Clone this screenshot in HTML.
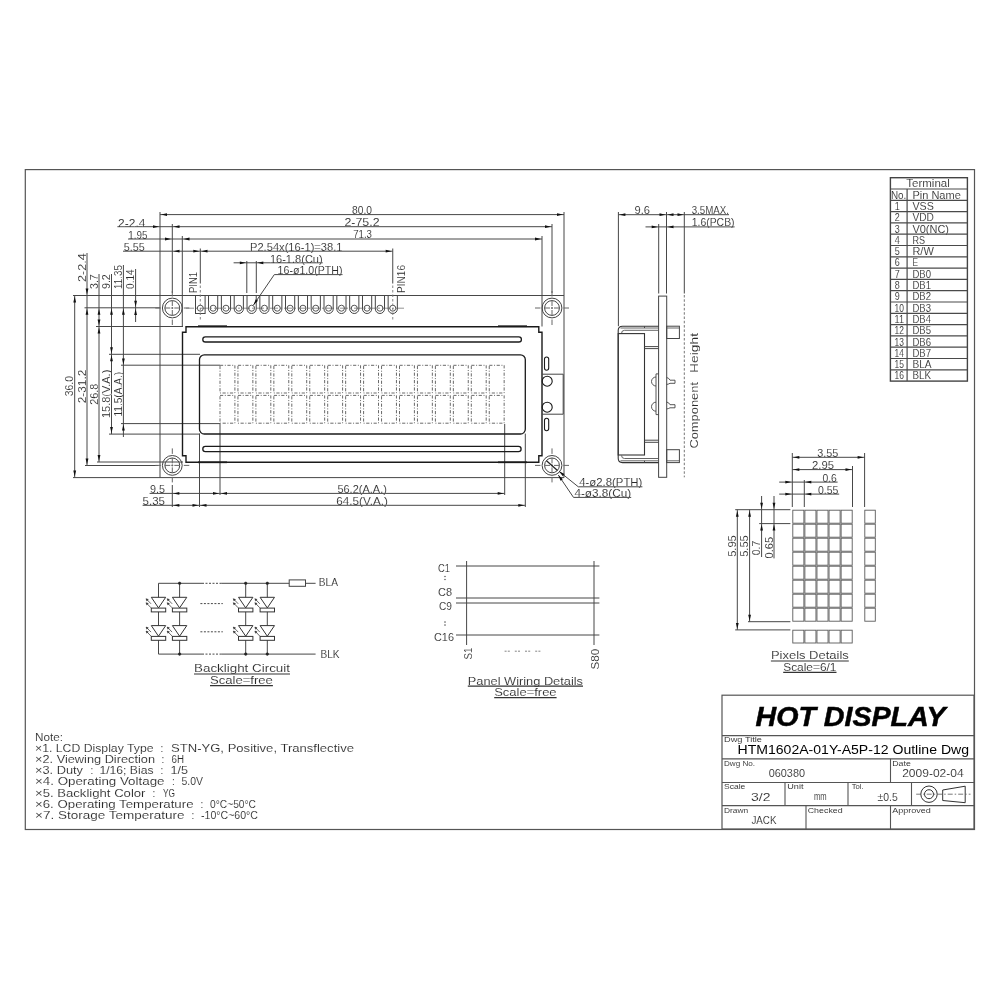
<!DOCTYPE html>
<html><head><meta charset="utf-8"><title>HTM1602A Outline</title>
<style>
html,body{margin:0;padding:0;background:#fff;}
body{width:1000px;height:1000px;overflow:hidden;}
svg{display:block;font-family:"Liberation Sans",sans-serif;will-change:transform;}
</style></head>
<body>
<svg width="1000" height="1000" viewBox="0 0 1000 1000">
<rect x="0" y="0" width="1000" height="1000" fill="#fff"/>
<rect x="25.3" y="169.6" width="949.2" height="659.9" fill="none" stroke="#555" stroke-width="1.2"/>
<line x1="160" y1="212" x2="160" y2="477.6" stroke="#474747" stroke-width="1"/>
<line x1="564" y1="212" x2="564" y2="477.6" stroke="#474747" stroke-width="1"/>
<line x1="73" y1="295.5" x2="564" y2="295.5" stroke="#474747" stroke-width="1"/>
<line x1="73" y1="477.6" x2="564" y2="477.6" stroke="#474747" stroke-width="1"/>
<line x1="84.5" y1="307.8" x2="160" y2="307.8" stroke="#474747" stroke-width="1"/>
<line x1="96" y1="326.5" x2="183" y2="326.5" stroke="#474747" stroke-width="1"/>
<line x1="109" y1="354.3" x2="200" y2="354.3" stroke="#474747" stroke-width="1"/>
<line x1="121" y1="365.2" x2="220" y2="365.2" stroke="#474747" stroke-width="1"/>
<line x1="121" y1="423.6" x2="220" y2="423.6" stroke="#474747" stroke-width="1"/>
<line x1="109" y1="434.1" x2="200" y2="434.1" stroke="#474747" stroke-width="1"/>
<line x1="97" y1="462" x2="183" y2="462" stroke="#474747" stroke-width="1"/>
<line x1="85" y1="465.5" x2="158" y2="465.5" stroke="#474747" stroke-width="1"/>
<line x1="172.3" y1="224" x2="172.3" y2="293" stroke="#474747" stroke-width="1"/>
<line x1="182.3" y1="236" x2="182.3" y2="326.5" stroke="#474747" stroke-width="1"/>
<line x1="200.3" y1="248.5" x2="200.3" y2="283.5" stroke="#474747" stroke-width="1"/>
<line x1="392.75" y1="248.5" x2="392.75" y2="283.5" stroke="#474747" stroke-width="1"/>
<line x1="542" y1="236" x2="542" y2="326.5" stroke="#474747" stroke-width="1"/>
<line x1="552" y1="224" x2="552" y2="293" stroke="#474747" stroke-width="1"/>
<line x1="172.3" y1="485" x2="172.3" y2="507" stroke="#474747" stroke-width="1"/>
<line x1="199.5" y1="433.6" x2="199.5" y2="507" stroke="#474747" stroke-width="1"/>
<line x1="220" y1="424" x2="220" y2="495" stroke="#474747" stroke-width="1"/>
<line x1="504.7" y1="424" x2="504.7" y2="495" stroke="#474747" stroke-width="1"/>
<line x1="525.3" y1="433.6" x2="525.3" y2="507" stroke="#474747" stroke-width="1"/>
<circle cx="172.3" cy="308" r="9.9" fill="none" stroke="#444" stroke-width="1"/>
<circle cx="172.3" cy="308" r="7.4" fill="none" stroke="#444" stroke-width="1"/>
<line x1="155.3" y1="308" x2="160.8" y2="308" stroke="#666" stroke-width="1"/>
<line x1="172.3" y1="291" x2="172.3" y2="296.5" stroke="#666" stroke-width="1"/>
<line x1="164.8" y1="308" x2="170.3" y2="308" stroke="#666" stroke-width="1"/>
<line x1="172.3" y1="300.5" x2="172.3" y2="306" stroke="#666" stroke-width="1"/>
<line x1="171.3" y1="308" x2="173.3" y2="308" stroke="#666" stroke-width="1"/>
<line x1="172.3" y1="307" x2="172.3" y2="309" stroke="#666" stroke-width="1"/>
<line x1="174.3" y1="308" x2="179.8" y2="308" stroke="#666" stroke-width="1"/>
<line x1="172.3" y1="310" x2="172.3" y2="315.5" stroke="#666" stroke-width="1"/>
<line x1="183.8" y1="308" x2="189.3" y2="308" stroke="#666" stroke-width="1"/>
<line x1="172.3" y1="319.5" x2="172.3" y2="325" stroke="#666" stroke-width="1"/>
<circle cx="172.3" cy="465.4" r="9.9" fill="none" stroke="#444" stroke-width="1"/>
<circle cx="172.3" cy="465.4" r="7.4" fill="none" stroke="#444" stroke-width="1"/>
<line x1="155.3" y1="465.4" x2="160.8" y2="465.4" stroke="#666" stroke-width="1"/>
<line x1="172.3" y1="448.4" x2="172.3" y2="453.9" stroke="#666" stroke-width="1"/>
<line x1="164.8" y1="465.4" x2="170.3" y2="465.4" stroke="#666" stroke-width="1"/>
<line x1="172.3" y1="457.9" x2="172.3" y2="463.4" stroke="#666" stroke-width="1"/>
<line x1="171.3" y1="465.4" x2="173.3" y2="465.4" stroke="#666" stroke-width="1"/>
<line x1="172.3" y1="464.4" x2="172.3" y2="466.4" stroke="#666" stroke-width="1"/>
<line x1="174.3" y1="465.4" x2="179.8" y2="465.4" stroke="#666" stroke-width="1"/>
<line x1="172.3" y1="467.4" x2="172.3" y2="472.9" stroke="#666" stroke-width="1"/>
<line x1="183.8" y1="465.4" x2="189.3" y2="465.4" stroke="#666" stroke-width="1"/>
<line x1="172.3" y1="476.9" x2="172.3" y2="482.4" stroke="#666" stroke-width="1"/>
<circle cx="552" cy="308" r="9.9" fill="none" stroke="#444" stroke-width="1"/>
<circle cx="552" cy="308" r="7.4" fill="none" stroke="#444" stroke-width="1"/>
<line x1="535" y1="308" x2="540.5" y2="308" stroke="#666" stroke-width="1"/>
<line x1="552" y1="291" x2="552" y2="296.5" stroke="#666" stroke-width="1"/>
<line x1="544.5" y1="308" x2="550" y2="308" stroke="#666" stroke-width="1"/>
<line x1="552" y1="300.5" x2="552" y2="306" stroke="#666" stroke-width="1"/>
<line x1="551" y1="308" x2="553" y2="308" stroke="#666" stroke-width="1"/>
<line x1="552" y1="307" x2="552" y2="309" stroke="#666" stroke-width="1"/>
<line x1="554" y1="308" x2="559.5" y2="308" stroke="#666" stroke-width="1"/>
<line x1="552" y1="310" x2="552" y2="315.5" stroke="#666" stroke-width="1"/>
<line x1="563.5" y1="308" x2="569" y2="308" stroke="#666" stroke-width="1"/>
<line x1="552" y1="319.5" x2="552" y2="325" stroke="#666" stroke-width="1"/>
<circle cx="552" cy="465.4" r="9.9" fill="none" stroke="#444" stroke-width="1"/>
<circle cx="552" cy="465.4" r="7.4" fill="none" stroke="#444" stroke-width="1"/>
<line x1="535" y1="465.4" x2="540.5" y2="465.4" stroke="#666" stroke-width="1"/>
<line x1="552" y1="448.4" x2="552" y2="453.9" stroke="#666" stroke-width="1"/>
<line x1="544.5" y1="465.4" x2="550" y2="465.4" stroke="#666" stroke-width="1"/>
<line x1="552" y1="457.9" x2="552" y2="463.4" stroke="#666" stroke-width="1"/>
<line x1="551" y1="465.4" x2="553" y2="465.4" stroke="#666" stroke-width="1"/>
<line x1="552" y1="464.4" x2="552" y2="466.4" stroke="#666" stroke-width="1"/>
<line x1="554" y1="465.4" x2="559.5" y2="465.4" stroke="#666" stroke-width="1"/>
<line x1="552" y1="467.4" x2="552" y2="472.9" stroke="#666" stroke-width="1"/>
<line x1="563.5" y1="465.4" x2="569" y2="465.4" stroke="#666" stroke-width="1"/>
<line x1="552" y1="476.9" x2="552" y2="482.4" stroke="#666" stroke-width="1"/>
<line x1="186" y1="308.2" x2="406" y2="308.2" stroke="#777" stroke-width="0.8" stroke-dasharray="8 2 2 2"/>
<rect x="195.5" y="295.5" width="9.6" height="18" fill="none" stroke="#444" stroke-width="1"/>
<circle cx="200.3" cy="308.2" r="3" fill="none" stroke="#444" stroke-width="0.9"/>
<line x1="200.3" y1="285.5" x2="200.3" y2="320" stroke="#777" stroke-width="0.9" stroke-dasharray="2.5 2"/>
<path d="M208.53,295.5 L208.53,308.9 A4.6,4.6 0 0 0 217.73,308.9 L217.73,295.5" fill="none" stroke="#444" stroke-width="1"/>
<circle cx="213.13" cy="308.2" r="3" fill="none" stroke="#444" stroke-width="0.9"/>
<path d="M221.36,295.5 L221.36,308.9 A4.6,4.6 0 0 0 230.56,308.9 L230.56,295.5" fill="none" stroke="#444" stroke-width="1"/>
<circle cx="225.96" cy="308.2" r="3" fill="none" stroke="#444" stroke-width="0.9"/>
<path d="M234.19,295.5 L234.19,308.9 A4.6,4.6 0 0 0 243.39,308.9 L243.39,295.5" fill="none" stroke="#444" stroke-width="1"/>
<circle cx="238.79" cy="308.2" r="3" fill="none" stroke="#444" stroke-width="0.9"/>
<path d="M247.02,295.5 L247.02,308.9 A4.6,4.6 0 0 0 256.22,308.9 L256.22,295.5" fill="none" stroke="#444" stroke-width="1"/>
<circle cx="251.62" cy="308.2" r="3" fill="none" stroke="#444" stroke-width="0.9"/>
<path d="M259.85,295.5 L259.85,308.9 A4.6,4.6 0 0 0 269.05,308.9 L269.05,295.5" fill="none" stroke="#444" stroke-width="1"/>
<circle cx="264.45" cy="308.2" r="3" fill="none" stroke="#444" stroke-width="0.9"/>
<path d="M272.68,295.5 L272.68,308.9 A4.6,4.6 0 0 0 281.88,308.9 L281.88,295.5" fill="none" stroke="#444" stroke-width="1"/>
<circle cx="277.28" cy="308.2" r="3" fill="none" stroke="#444" stroke-width="0.9"/>
<path d="M285.51,295.5 L285.51,308.9 A4.6,4.6 0 0 0 294.71,308.9 L294.71,295.5" fill="none" stroke="#444" stroke-width="1"/>
<circle cx="290.11" cy="308.2" r="3" fill="none" stroke="#444" stroke-width="0.9"/>
<path d="M298.34,295.5 L298.34,308.9 A4.6,4.6 0 0 0 307.54,308.9 L307.54,295.5" fill="none" stroke="#444" stroke-width="1"/>
<circle cx="302.94" cy="308.2" r="3" fill="none" stroke="#444" stroke-width="0.9"/>
<path d="M311.17,295.5 L311.17,308.9 A4.6,4.6 0 0 0 320.37,308.9 L320.37,295.5" fill="none" stroke="#444" stroke-width="1"/>
<circle cx="315.77" cy="308.2" r="3" fill="none" stroke="#444" stroke-width="0.9"/>
<path d="M324,295.5 L324,308.9 A4.6,4.6 0 0 0 333.2,308.9 L333.2,295.5" fill="none" stroke="#444" stroke-width="1"/>
<circle cx="328.6" cy="308.2" r="3" fill="none" stroke="#444" stroke-width="0.9"/>
<path d="M336.83,295.5 L336.83,308.9 A4.6,4.6 0 0 0 346.03,308.9 L346.03,295.5" fill="none" stroke="#444" stroke-width="1"/>
<circle cx="341.43" cy="308.2" r="3" fill="none" stroke="#444" stroke-width="0.9"/>
<path d="M349.66,295.5 L349.66,308.9 A4.6,4.6 0 0 0 358.86,308.9 L358.86,295.5" fill="none" stroke="#444" stroke-width="1"/>
<circle cx="354.26" cy="308.2" r="3" fill="none" stroke="#444" stroke-width="0.9"/>
<path d="M362.49,295.5 L362.49,308.9 A4.6,4.6 0 0 0 371.69,308.9 L371.69,295.5" fill="none" stroke="#444" stroke-width="1"/>
<circle cx="367.09" cy="308.2" r="3" fill="none" stroke="#444" stroke-width="0.9"/>
<path d="M375.32,295.5 L375.32,308.9 A4.6,4.6 0 0 0 384.52,308.9 L384.52,295.5" fill="none" stroke="#444" stroke-width="1"/>
<circle cx="379.92" cy="308.2" r="3" fill="none" stroke="#444" stroke-width="0.9"/>
<path d="M388.15,295.5 L388.15,308.9 A4.6,4.6 0 0 0 397.35,308.9 L397.35,295.5" fill="none" stroke="#444" stroke-width="1"/>
<circle cx="392.75" cy="308.2" r="3" fill="none" stroke="#444" stroke-width="0.9"/>
<line x1="392.75" y1="285.5" x2="392.75" y2="320" stroke="#777" stroke-width="0.9" stroke-dasharray="2.5 2"/>
<polygon points="186,326.7 538.8,326.7 538.8,332.3 542,332.3 542,455.8 538.8,455.8 538.8,462.2 186,462.2 186,455.8 182.5,455.8 182.5,332.3 186,332.3" fill="none" stroke="#1a1a1a" stroke-width="1.4"/>
<line x1="198" y1="326.2" x2="227" y2="326.2" stroke="#1a1a1a" stroke-width="1.7"/>
<line x1="198" y1="462.3" x2="227" y2="462.3" stroke="#1a1a1a" stroke-width="1.7"/>
<line x1="498" y1="326.2" x2="527" y2="326.2" stroke="#1a1a1a" stroke-width="1.7"/>
<line x1="498" y1="462.3" x2="527" y2="462.3" stroke="#1a1a1a" stroke-width="1.7"/>
<rect x="202.8" y="336.8" width="318.6" height="5.2" rx="2.6" fill="none" stroke="#1a1a1a" stroke-width="1.3"/>
<rect x="202.8" y="446.4" width="318.3" height="5.3" rx="2.6" fill="none" stroke="#1a1a1a" stroke-width="1.3"/>
<rect x="199.5" y="354.8" width="325.8" height="79.2" rx="4.8" fill="none" stroke="#1a1a1a" stroke-width="1.3"/>
<rect x="220" y="365.3" width="14.9" height="27.7" fill="none" stroke="#6a6a6a" stroke-width="1" stroke-dasharray="3.2 1.6 1 1.6"/>
<rect x="220" y="395.4" width="14.9" height="27.8" fill="none" stroke="#6a6a6a" stroke-width="1" stroke-dasharray="3.2 1.6 1 1.6"/>
<rect x="237.95" y="365.3" width="14.9" height="27.7" fill="none" stroke="#6a6a6a" stroke-width="1" stroke-dasharray="3.2 1.6 1 1.6"/>
<rect x="237.95" y="395.4" width="14.9" height="27.8" fill="none" stroke="#6a6a6a" stroke-width="1" stroke-dasharray="3.2 1.6 1 1.6"/>
<rect x="255.9" y="365.3" width="14.9" height="27.7" fill="none" stroke="#6a6a6a" stroke-width="1" stroke-dasharray="3.2 1.6 1 1.6"/>
<rect x="255.9" y="395.4" width="14.9" height="27.8" fill="none" stroke="#6a6a6a" stroke-width="1" stroke-dasharray="3.2 1.6 1 1.6"/>
<rect x="273.85" y="365.3" width="14.9" height="27.7" fill="none" stroke="#6a6a6a" stroke-width="1" stroke-dasharray="3.2 1.6 1 1.6"/>
<rect x="273.85" y="395.4" width="14.9" height="27.8" fill="none" stroke="#6a6a6a" stroke-width="1" stroke-dasharray="3.2 1.6 1 1.6"/>
<rect x="291.8" y="365.3" width="14.9" height="27.7" fill="none" stroke="#6a6a6a" stroke-width="1" stroke-dasharray="3.2 1.6 1 1.6"/>
<rect x="291.8" y="395.4" width="14.9" height="27.8" fill="none" stroke="#6a6a6a" stroke-width="1" stroke-dasharray="3.2 1.6 1 1.6"/>
<rect x="309.75" y="365.3" width="14.9" height="27.7" fill="none" stroke="#6a6a6a" stroke-width="1" stroke-dasharray="3.2 1.6 1 1.6"/>
<rect x="309.75" y="395.4" width="14.9" height="27.8" fill="none" stroke="#6a6a6a" stroke-width="1" stroke-dasharray="3.2 1.6 1 1.6"/>
<rect x="327.7" y="365.3" width="14.9" height="27.7" fill="none" stroke="#6a6a6a" stroke-width="1" stroke-dasharray="3.2 1.6 1 1.6"/>
<rect x="327.7" y="395.4" width="14.9" height="27.8" fill="none" stroke="#6a6a6a" stroke-width="1" stroke-dasharray="3.2 1.6 1 1.6"/>
<rect x="345.65" y="365.3" width="14.9" height="27.7" fill="none" stroke="#6a6a6a" stroke-width="1" stroke-dasharray="3.2 1.6 1 1.6"/>
<rect x="345.65" y="395.4" width="14.9" height="27.8" fill="none" stroke="#6a6a6a" stroke-width="1" stroke-dasharray="3.2 1.6 1 1.6"/>
<rect x="363.6" y="365.3" width="14.9" height="27.7" fill="none" stroke="#6a6a6a" stroke-width="1" stroke-dasharray="3.2 1.6 1 1.6"/>
<rect x="363.6" y="395.4" width="14.9" height="27.8" fill="none" stroke="#6a6a6a" stroke-width="1" stroke-dasharray="3.2 1.6 1 1.6"/>
<rect x="381.55" y="365.3" width="14.9" height="27.7" fill="none" stroke="#6a6a6a" stroke-width="1" stroke-dasharray="3.2 1.6 1 1.6"/>
<rect x="381.55" y="395.4" width="14.9" height="27.8" fill="none" stroke="#6a6a6a" stroke-width="1" stroke-dasharray="3.2 1.6 1 1.6"/>
<rect x="399.5" y="365.3" width="14.9" height="27.7" fill="none" stroke="#6a6a6a" stroke-width="1" stroke-dasharray="3.2 1.6 1 1.6"/>
<rect x="399.5" y="395.4" width="14.9" height="27.8" fill="none" stroke="#6a6a6a" stroke-width="1" stroke-dasharray="3.2 1.6 1 1.6"/>
<rect x="417.45" y="365.3" width="14.9" height="27.7" fill="none" stroke="#6a6a6a" stroke-width="1" stroke-dasharray="3.2 1.6 1 1.6"/>
<rect x="417.45" y="395.4" width="14.9" height="27.8" fill="none" stroke="#6a6a6a" stroke-width="1" stroke-dasharray="3.2 1.6 1 1.6"/>
<rect x="435.4" y="365.3" width="14.9" height="27.7" fill="none" stroke="#6a6a6a" stroke-width="1" stroke-dasharray="3.2 1.6 1 1.6"/>
<rect x="435.4" y="395.4" width="14.9" height="27.8" fill="none" stroke="#6a6a6a" stroke-width="1" stroke-dasharray="3.2 1.6 1 1.6"/>
<rect x="453.35" y="365.3" width="14.9" height="27.7" fill="none" stroke="#6a6a6a" stroke-width="1" stroke-dasharray="3.2 1.6 1 1.6"/>
<rect x="453.35" y="395.4" width="14.9" height="27.8" fill="none" stroke="#6a6a6a" stroke-width="1" stroke-dasharray="3.2 1.6 1 1.6"/>
<rect x="471.3" y="365.3" width="14.9" height="27.7" fill="none" stroke="#6a6a6a" stroke-width="1" stroke-dasharray="3.2 1.6 1 1.6"/>
<rect x="471.3" y="395.4" width="14.9" height="27.8" fill="none" stroke="#6a6a6a" stroke-width="1" stroke-dasharray="3.2 1.6 1 1.6"/>
<rect x="489.25" y="365.3" width="14.9" height="27.7" fill="none" stroke="#6a6a6a" stroke-width="1" stroke-dasharray="3.2 1.6 1 1.6"/>
<rect x="489.25" y="395.4" width="14.9" height="27.8" fill="none" stroke="#6a6a6a" stroke-width="1" stroke-dasharray="3.2 1.6 1 1.6"/>
<rect x="544.5" y="357" width="4.2" height="13.2" rx="2.1" fill="none" stroke="#1a1a1a" stroke-width="1.1"/>
<rect x="544.5" y="418.2" width="4.2" height="12.5" rx="2.1" fill="none" stroke="#1a1a1a" stroke-width="1.1"/>
<polyline points="542,374.2 563.2,374.2 563.2,414.2 542,414.2" fill="none" stroke="#444" stroke-width="1"/>
<circle cx="547.2" cy="381.2" r="5" fill="none" stroke="#1a1a1a" stroke-width="1.1"/>
<circle cx="547.2" cy="407.2" r="5" fill="none" stroke="#1a1a1a" stroke-width="1.1"/>
<line x1="160" y1="214.6" x2="564" y2="214.6" stroke="#474747" stroke-width="1"/>
<polygon points="161,214.6 167,213.2 167,216" fill="#111"/>
<polygon points="563,214.6 557,213.2 557,216" fill="#111"/>
<text x="352" y="214.1" font-size="10.1" fill="#2a2a2a" stroke="#fff" stroke-width="0.1" textLength="20" lengthAdjust="spacingAndGlyphs">80.0</text>
<line x1="117.4" y1="226.7" x2="552" y2="226.7" stroke="#474747" stroke-width="1"/>
<polygon points="159,226.7 153,225.3 153,228.1" fill="#111"/>
<polygon points="173.5,226.7 179.5,225.3 179.5,228.1" fill="#111"/>
<polygon points="551,226.7 545,225.3 545,228.1" fill="#111"/>
<text x="118.1" y="226.5" font-size="10.1" fill="#2a2a2a" stroke="#fff" stroke-width="0.1" textLength="27.3" lengthAdjust="spacingAndGlyphs">2-2.4</text>
<text x="344.4" y="226.2" font-size="10.1" fill="#2a2a2a" stroke="#fff" stroke-width="0.1" textLength="35.2" lengthAdjust="spacingAndGlyphs">2-75.2</text>
<line x1="128" y1="239" x2="542" y2="239" stroke="#474747" stroke-width="1"/>
<polygon points="171,239 165,237.6 165,240.4" fill="#111"/>
<polygon points="183.5,239 189.5,237.6 189.5,240.4" fill="#111"/>
<polygon points="541,239 535,237.6 535,240.4" fill="#111"/>
<text x="128.3" y="238.7" font-size="10.1" fill="#2a2a2a" stroke="#fff" stroke-width="0.1" textLength="19.2" lengthAdjust="spacingAndGlyphs">1.95</text>
<text x="353.2" y="238.4" font-size="10.1" fill="#2a2a2a" stroke="#fff" stroke-width="0.1" textLength="18.8" lengthAdjust="spacingAndGlyphs">71.3</text>
<line x1="123" y1="251.2" x2="392.7" y2="251.2" stroke="#474747" stroke-width="1"/>
<polygon points="173.5,251.2 179.5,249.8 179.5,252.6" fill="#111"/>
<polygon points="199.3,251.2 193.3,249.8 193.3,252.6" fill="#111"/>
<polygon points="201.5,251.2 207.5,249.8 207.5,252.6" fill="#111"/>
<polygon points="391.7,251.2 385.7,249.8 385.7,252.6" fill="#111"/>
<text x="123.7" y="250.9" font-size="10.1" fill="#2a2a2a" stroke="#fff" stroke-width="0.1" textLength="21" lengthAdjust="spacingAndGlyphs">5.55</text>
<text x="250" y="250.7" font-size="10.1" fill="#2a2a2a" stroke="#fff" stroke-width="0.1" textLength="92.5" lengthAdjust="spacingAndGlyphs">P2.54x(16-1)=38.1</text>
<line x1="233.6" y1="262.8" x2="322.7" y2="262.8" stroke="#474747" stroke-width="1"/>
<line x1="246.8" y1="261" x2="246.8" y2="293" stroke="#474747" stroke-width="1"/>
<line x1="256.3" y1="261" x2="256.3" y2="293" stroke="#474747" stroke-width="1"/>
<polygon points="245.8,262.8 239.8,261.4 239.8,264.2" fill="#111"/>
<polygon points="257.3,262.8 263.3,261.4 263.3,264.2" fill="#111"/>
<text x="269.9" y="262.5" font-size="10.1" fill="#2a2a2a" stroke="#fff" stroke-width="0.1" textLength="52.8" lengthAdjust="spacingAndGlyphs">16-1.8(Cu)</text>
<line x1="274.3" y1="274.6" x2="342.5" y2="274.6" stroke="#474747" stroke-width="1"/>
<line x1="274.3" y1="274.6" x2="253.5" y2="305" stroke="#474747" stroke-width="1"/>
<polygon points="253.5,305 258.04,300.84 255.73,299.26" fill="#111"/>
<text x="277.6" y="274.2" font-size="10.1" fill="#2a2a2a" stroke="#fff" stroke-width="0.1" textLength="64.9" lengthAdjust="spacingAndGlyphs">16-ø1.0(PTH)</text>
<text transform="translate(196.5,293) rotate(-90)" font-size="10.1" fill="#2a2a2a" stroke="#fff" stroke-width="0.1" textLength="21" lengthAdjust="spacingAndGlyphs">PIN1</text>
<text transform="translate(405.2,293) rotate(-90)" font-size="10.1" fill="#2a2a2a" stroke="#fff" stroke-width="0.1" textLength="28" lengthAdjust="spacingAndGlyphs">PIN16</text>
<line x1="74.7" y1="295.5" x2="74.7" y2="477.6" stroke="#474747" stroke-width="1"/>
<polygon points="74.7,296.5 73.3,302.5 76.1,302.5" fill="#111"/>
<polygon points="74.7,476.6 73.3,470.6 76.1,470.6" fill="#111"/>
<text transform="translate(73.2,396.3) rotate(-90)" font-size="10.1" fill="#2a2a2a" stroke="#fff" stroke-width="0.1" textLength="20.3" lengthAdjust="spacingAndGlyphs">36.0</text>
<line x1="87" y1="253" x2="87" y2="465.5" stroke="#474747" stroke-width="1"/>
<polygon points="87,294.5 85.6,288.5 88.4,288.5" fill="#111"/>
<polygon points="87,308.8 85.6,314.8 88.4,314.8" fill="#111"/>
<polygon points="87,464.5 85.6,458.5 88.4,458.5" fill="#111"/>
<text transform="translate(85.5,281.9) rotate(-90)" font-size="10.1" fill="#2a2a2a" stroke="#fff" stroke-width="0.1" textLength="28.7" lengthAdjust="spacingAndGlyphs">2-2.4</text>
<text transform="translate(85.5,403.3) rotate(-90)" font-size="10.1" fill="#2a2a2a" stroke="#fff" stroke-width="0.1" textLength="33.6" lengthAdjust="spacingAndGlyphs">2-31.2</text>
<line x1="99" y1="274" x2="99" y2="462" stroke="#474747" stroke-width="1"/>
<polygon points="99,308.8 97.6,314.8 100.4,314.8" fill="#111"/>
<polygon points="99,325.5 97.6,319.5 100.4,319.5" fill="#111"/>
<polygon points="99,327.5 97.6,333.5 100.4,333.5" fill="#111"/>
<polygon points="99,461 97.6,455 100.4,455" fill="#111"/>
<text transform="translate(97.6,289) rotate(-90)" font-size="10.1" fill="#2a2a2a" stroke="#fff" stroke-width="0.1" textLength="14.8" lengthAdjust="spacingAndGlyphs">3.7</text>
<text transform="translate(97.6,404.7) rotate(-90)" font-size="10.1" fill="#2a2a2a" stroke="#fff" stroke-width="0.1" textLength="21" lengthAdjust="spacingAndGlyphs">26.8</text>
<line x1="111.5" y1="274" x2="111.5" y2="434.1" stroke="#474747" stroke-width="1"/>
<polygon points="111.5,308.8 110.1,314.8 112.9,314.8" fill="#111"/>
<polygon points="111.5,353.3 110.1,347.3 112.9,347.3" fill="#111"/>
<polygon points="111.5,355.3 110.1,361.3 112.9,361.3" fill="#111"/>
<polygon points="111.5,433.1 110.1,427.1 112.9,427.1" fill="#111"/>
<text transform="translate(110,289) rotate(-90)" font-size="10.1" fill="#2a2a2a" stroke="#fff" stroke-width="0.1" textLength="14.8" lengthAdjust="spacingAndGlyphs">9.2</text>
<text transform="translate(110,418) rotate(-90)" font-size="10.1" fill="#2a2a2a" stroke="#fff" stroke-width="0.1" textLength="48.3" lengthAdjust="spacingAndGlyphs">15.8(V.A.)</text>
<line x1="123.4" y1="265" x2="123.4" y2="437" stroke="#474747" stroke-width="1"/>
<polygon points="123.4,308.8 122,314.8 124.8,314.8" fill="#111"/>
<polygon points="123.4,364.6 122,358.6 124.8,358.6" fill="#111"/>
<polygon points="123.4,424.4 122,430.4 124.8,430.4" fill="#111"/>
<text transform="translate(122,289) rotate(-90)" font-size="10.1" fill="#2a2a2a" stroke="#fff" stroke-width="0.1" textLength="23.9" lengthAdjust="spacingAndGlyphs">11.35</text>
<text transform="translate(122,416.6) rotate(-90)" font-size="10.1" fill="#2a2a2a" stroke="#fff" stroke-width="0.1" textLength="44.8" lengthAdjust="spacingAndGlyphs">11.5(A.A.)</text>
<line x1="135.6" y1="269" x2="135.6" y2="322" stroke="#474747" stroke-width="1"/>
<polygon points="135.6,306.8 134.2,300.8 137,300.8" fill="#111"/>
<polygon points="135.6,309 134.2,315 137,315" fill="#111"/>
<text transform="translate(134.2,289) rotate(-90)" font-size="10.1" fill="#2a2a2a" stroke="#fff" stroke-width="0.1" textLength="19.7" lengthAdjust="spacingAndGlyphs">0.14</text>
<line x1="149.6" y1="493.4" x2="504.7" y2="493.4" stroke="#474747" stroke-width="1"/>
<polygon points="173.3,493.4 179.3,492 179.3,494.8" fill="#111"/>
<polygon points="219,493.4 213,492 213,494.8" fill="#111"/>
<polygon points="221,493.4 227,492 227,494.8" fill="#111"/>
<polygon points="503.7,493.4 497.7,492 497.7,494.8" fill="#111"/>
<text x="150" y="493.1" font-size="10.1" fill="#2a2a2a" stroke="#fff" stroke-width="0.1" textLength="15" lengthAdjust="spacingAndGlyphs">9.5</text>
<text x="337.4" y="492.9" font-size="10.1" fill="#2a2a2a" stroke="#fff" stroke-width="0.1" textLength="49.5" lengthAdjust="spacingAndGlyphs">56.2(A.A.)</text>
<line x1="142.6" y1="505.3" x2="525.3" y2="505.3" stroke="#474747" stroke-width="1"/>
<polygon points="173.3,505.3 179.3,503.9 179.3,506.7" fill="#111"/>
<polygon points="198.5,505.3 192.5,503.9 192.5,506.7" fill="#111"/>
<polygon points="200.5,505.3 206.5,503.9 206.5,506.7" fill="#111"/>
<polygon points="524.3,505.3 518.3,503.9 518.3,506.7" fill="#111"/>
<text x="142.6" y="505.1" font-size="10.1" fill="#2a2a2a" stroke="#fff" stroke-width="0.1" textLength="22.4" lengthAdjust="spacingAndGlyphs">5.35</text>
<text x="336.3" y="504.7" font-size="10.1" fill="#2a2a2a" stroke="#fff" stroke-width="0.1" textLength="51.7" lengthAdjust="spacingAndGlyphs">64.5(V.A.)</text>
<line x1="546.5" y1="460.7" x2="557.5" y2="470.5" stroke="#222" stroke-width="1.2"/>
<line x1="559" y1="471.3" x2="578.3" y2="486.8" stroke="#474747" stroke-width="1"/>
<line x1="578.3" y1="486.8" x2="642.4" y2="486.8" stroke="#474747" stroke-width="1"/>
<polygon points="559,471.3 562.8,476.15 564.55,473.97" fill="#111"/>
<line x1="558.3" y1="475" x2="573.5" y2="497.4" stroke="#474747" stroke-width="1"/>
<line x1="573.5" y1="497.4" x2="631.2" y2="497.4" stroke="#474747" stroke-width="1"/>
<polygon points="558.3,475 560.51,480.75 562.83,479.18" fill="#111"/>
<text x="579.2" y="486.1" font-size="10.1" fill="#2a2a2a" stroke="#fff" stroke-width="0.1" textLength="63.2" lengthAdjust="spacingAndGlyphs">4-ø2.8(PTH)</text>
<text x="574.4" y="497.3" font-size="10.1" fill="#2a2a2a" stroke="#fff" stroke-width="0.1" textLength="56.8" lengthAdjust="spacingAndGlyphs">4-ø3.8(Cu)</text>
<line x1="618.4" y1="212" x2="618.4" y2="326.2" stroke="#474747" stroke-width="1"/>
<line x1="658.7" y1="224" x2="658.7" y2="293.5" stroke="#474747" stroke-width="1"/>
<line x1="666.5" y1="212" x2="666.5" y2="293.5" stroke="#474747" stroke-width="1"/>
<line x1="684.3" y1="212" x2="684.3" y2="293.5" stroke="#474747" stroke-width="1"/>
<line x1="684.3" y1="295" x2="684.3" y2="477.3" stroke="#666" stroke-width="0.9" stroke-dasharray="2.5 1.8"/>
<line x1="618.4" y1="214.7" x2="729" y2="214.7" stroke="#474747" stroke-width="1"/>
<polygon points="619.4,214.7 625.4,213.3 625.4,216.1" fill="#111"/>
<polygon points="665.5,214.7 659.5,213.3 659.5,216.1" fill="#111"/>
<polygon points="667.5,214.7 673.5,213.3 673.5,216.1" fill="#111"/>
<polygon points="683.5,214.7 677.5,213.3 677.5,216.1" fill="#111"/>
<text x="634.5" y="214.2" font-size="10.1" fill="#2a2a2a" stroke="#fff" stroke-width="0.1" textLength="15.5" lengthAdjust="spacingAndGlyphs">9.6</text>
<text x="691.7" y="214.2" font-size="10.1" fill="#2a2a2a" stroke="#fff" stroke-width="0.1" textLength="37.3" lengthAdjust="spacingAndGlyphs">3.5MAX.</text>
<line x1="645.5" y1="226.9" x2="734.6" y2="226.9" stroke="#474747" stroke-width="1"/>
<polygon points="657.7,226.9 651.7,225.5 651.7,228.3" fill="#111"/>
<polygon points="667.5,226.9 673.5,225.5 673.5,228.3" fill="#111"/>
<text x="691.7" y="226.4" font-size="10.1" fill="#2a2a2a" stroke="#fff" stroke-width="0.1" textLength="42.9" lengthAdjust="spacingAndGlyphs">1.6(PCB)</text>
<rect x="658.6" y="296.1" width="8.1" height="181.2" fill="none" stroke="#444" stroke-width="1"/>
<rect x="666.7" y="326.2" width="12.7" height="12.3" fill="none" stroke="#444" stroke-width="1"/>
<rect x="666.7" y="449.7" width="12.7" height="12.9" fill="none" stroke="#444" stroke-width="1"/>
<path d="M658.6,326.2 L622.5,326.2 Q618.2,326.2 618.2,330.5 L618.2,458.3 Q618.2,462.6 622.5,462.6 L658.6,462.6" fill="none" stroke="#333" stroke-width="1.1"/>
<path d="M658.6,330.3 L624.5,330.3 Q621.6,330.3 621.6,333.2" fill="none" stroke="#555" stroke-width="0.9"/>
<path d="M658.6,458.5 L624.5,458.5 Q621.6,458.5 621.6,455.6" fill="none" stroke="#555" stroke-width="0.9"/>
<line x1="620.5" y1="328" x2="658.6" y2="328" stroke="#555" stroke-width="0.9"/>
<line x1="620.5" y1="460.8" x2="658.6" y2="460.8" stroke="#555" stroke-width="0.9"/>
<rect x="618.2" y="333.6" width="26.3" height="121.4" fill="none" stroke="#333" stroke-width="1.1"/>
<line x1="644.5" y1="326.2" x2="644.5" y2="328" stroke="#474747" stroke-width="1"/>
<line x1="644.5" y1="460.8" x2="644.5" y2="462.6" stroke="#474747" stroke-width="1"/>
<line x1="666.7" y1="328" x2="679.4" y2="328" stroke="#555" stroke-width="0.9"/>
<line x1="666.7" y1="460.8" x2="679.4" y2="460.8" stroke="#555" stroke-width="0.9"/>
<line x1="644.5" y1="346.6" x2="658.6" y2="346.6" stroke="#474747" stroke-width="1"/>
<line x1="644.5" y1="348.6" x2="658.6" y2="348.6" stroke="#474747" stroke-width="1"/>
<line x1="644.6" y1="440.2" x2="658.6" y2="440.2" stroke="#474747" stroke-width="1"/>
<line x1="644.6" y1="442.3" x2="658.6" y2="442.3" stroke="#474747" stroke-width="1"/>
<path d="M658.6,373.9 L656,373.9 L656,414.6 L658.6,414.6" fill="none" stroke="#444" stroke-width="0.9"/>
<path d="M656,377 A4.5,4.5 0 0 0 656,386" fill="none" stroke="#444" stroke-width="0.9"/>
<path d="M656,402.2 A4.5,4.5 0 0 0 656,411.2" fill="none" stroke="#444" stroke-width="0.9"/>
<path d="M666.7,377.5 Q669,378 670,380.2 L675,380.2 L675,383.3 L670,383.3 Q669,384 666.7,384.5" fill="none" stroke="#444" stroke-width="0.9"/>
<path d="M666.7,402 Q669,402.5 670,404.7 L675,404.7 L675,407.8 L670,407.8 Q669,408.5 666.7,409" fill="none" stroke="#444" stroke-width="0.9"/>
<text transform="translate(697.7,448.6) rotate(-90)" font-size="11.5" fill="#2a2a2a" stroke="#fff" stroke-width="0.1" textLength="66.6" lengthAdjust="spacingAndGlyphs">Component</text>
<text transform="translate(697.7,373) rotate(-90)" font-size="11.5" fill="#2a2a2a" stroke="#fff" stroke-width="0.1" textLength="40" lengthAdjust="spacingAndGlyphs">Height</text>
<rect x="890.4" y="177.7" width="77" height="203.4" fill="none" stroke="#444" stroke-width="1.4"/>
<line x1="890.4" y1="189" x2="967.4" y2="189" stroke="#4a4a4a" stroke-width="1.2"/>
<line x1="890.4" y1="200.3" x2="967.4" y2="200.3" stroke="#4a4a4a" stroke-width="1.2"/>
<line x1="890.4" y1="211.6" x2="967.4" y2="211.6" stroke="#4a4a4a" stroke-width="1.2"/>
<line x1="890.4" y1="222.9" x2="967.4" y2="222.9" stroke="#4a4a4a" stroke-width="1.2"/>
<line x1="890.4" y1="234.2" x2="967.4" y2="234.2" stroke="#4a4a4a" stroke-width="1.2"/>
<line x1="890.4" y1="245.5" x2="967.4" y2="245.5" stroke="#4a4a4a" stroke-width="1.2"/>
<line x1="890.4" y1="256.8" x2="967.4" y2="256.8" stroke="#4a4a4a" stroke-width="1.2"/>
<line x1="890.4" y1="268.1" x2="967.4" y2="268.1" stroke="#4a4a4a" stroke-width="1.2"/>
<line x1="890.4" y1="279.4" x2="967.4" y2="279.4" stroke="#4a4a4a" stroke-width="1.2"/>
<line x1="890.4" y1="290.7" x2="967.4" y2="290.7" stroke="#4a4a4a" stroke-width="1.2"/>
<line x1="890.4" y1="302" x2="967.4" y2="302" stroke="#4a4a4a" stroke-width="1.2"/>
<line x1="890.4" y1="313.3" x2="967.4" y2="313.3" stroke="#4a4a4a" stroke-width="1.2"/>
<line x1="890.4" y1="324.6" x2="967.4" y2="324.6" stroke="#4a4a4a" stroke-width="1.2"/>
<line x1="890.4" y1="335.9" x2="967.4" y2="335.9" stroke="#4a4a4a" stroke-width="1.2"/>
<line x1="890.4" y1="347.2" x2="967.4" y2="347.2" stroke="#4a4a4a" stroke-width="1.2"/>
<line x1="890.4" y1="358.5" x2="967.4" y2="358.5" stroke="#4a4a4a" stroke-width="1.2"/>
<line x1="890.4" y1="369.8" x2="967.4" y2="369.8" stroke="#4a4a4a" stroke-width="1.2"/>
<line x1="907.1" y1="189" x2="907.1" y2="381.1" stroke="#4a4a4a" stroke-width="1.2"/>
<text x="906.3" y="187.2" font-size="10.3" fill="#2a2a2a" stroke="#fff" stroke-width="0.1" textLength="43.5" lengthAdjust="spacingAndGlyphs">Terminal</text>
<text x="890.9" y="198.6" font-size="10.3" fill="#2a2a2a" stroke="#fff" stroke-width="0.1" textLength="15.4" lengthAdjust="spacingAndGlyphs">No.</text>
<text x="912.4" y="198.6" font-size="10.3" fill="#2a2a2a" stroke="#fff" stroke-width="0.1" textLength="48.4" lengthAdjust="spacingAndGlyphs">Pin Name</text>
<text x="894.8" y="209.9" font-size="10.3" fill="#2a2a2a" stroke="#fff" stroke-width="0.1" textLength="5" lengthAdjust="spacingAndGlyphs">1</text>
<text x="912.4" y="209.9" font-size="10.3" fill="#2a2a2a" stroke="#fff" stroke-width="0.1" textLength="21.4" lengthAdjust="spacingAndGlyphs">VSS</text>
<text x="894.8" y="221.2" font-size="10.3" fill="#2a2a2a" stroke="#fff" stroke-width="0.1" textLength="5" lengthAdjust="spacingAndGlyphs">2</text>
<text x="912.4" y="221.2" font-size="10.3" fill="#2a2a2a" stroke="#fff" stroke-width="0.1" textLength="21.4" lengthAdjust="spacingAndGlyphs">VDD</text>
<text x="894.8" y="232.5" font-size="10.3" fill="#2a2a2a" stroke="#fff" stroke-width="0.1" textLength="5" lengthAdjust="spacingAndGlyphs">3</text>
<text x="912.4" y="232.5" font-size="10.3" fill="#2a2a2a" stroke="#fff" stroke-width="0.1" textLength="36.6" lengthAdjust="spacingAndGlyphs">V0(NC)</text>
<text x="894.8" y="243.8" font-size="10.3" fill="#2a2a2a" stroke="#fff" stroke-width="0.1" textLength="5" lengthAdjust="spacingAndGlyphs">4</text>
<text x="912.4" y="243.8" font-size="10.3" fill="#2a2a2a" stroke="#fff" stroke-width="0.1" textLength="12.6" lengthAdjust="spacingAndGlyphs">RS</text>
<text x="894.8" y="255.1" font-size="10.3" fill="#2a2a2a" stroke="#fff" stroke-width="0.1" textLength="5" lengthAdjust="spacingAndGlyphs">5</text>
<text x="912.4" y="255.1" font-size="10.3" fill="#2a2a2a" stroke="#fff" stroke-width="0.1" textLength="21.4" lengthAdjust="spacingAndGlyphs">R/W</text>
<text x="894.8" y="266.4" font-size="10.3" fill="#2a2a2a" stroke="#fff" stroke-width="0.1" textLength="5" lengthAdjust="spacingAndGlyphs">6</text>
<text x="912.4" y="266.4" font-size="10.3" fill="#2a2a2a" stroke="#fff" stroke-width="0.1" textLength="5.5" lengthAdjust="spacingAndGlyphs">E</text>
<text x="894.8" y="277.7" font-size="10.3" fill="#2a2a2a" stroke="#fff" stroke-width="0.1" textLength="5" lengthAdjust="spacingAndGlyphs">7</text>
<text x="912.4" y="277.7" font-size="10.3" fill="#2a2a2a" stroke="#fff" stroke-width="0.1" textLength="18.6" lengthAdjust="spacingAndGlyphs">DB0</text>
<text x="894.8" y="289" font-size="10.3" fill="#2a2a2a" stroke="#fff" stroke-width="0.1" textLength="5" lengthAdjust="spacingAndGlyphs">8</text>
<text x="912.4" y="289" font-size="10.3" fill="#2a2a2a" stroke="#fff" stroke-width="0.1" textLength="18.6" lengthAdjust="spacingAndGlyphs">DB1</text>
<text x="894.8" y="300.3" font-size="10.3" fill="#2a2a2a" stroke="#fff" stroke-width="0.1" textLength="5" lengthAdjust="spacingAndGlyphs">9</text>
<text x="912.4" y="300.3" font-size="10.3" fill="#2a2a2a" stroke="#fff" stroke-width="0.1" textLength="18.6" lengthAdjust="spacingAndGlyphs">DB2</text>
<text x="894.6" y="311.6" font-size="10.3" fill="#2a2a2a" stroke="#fff" stroke-width="0.1" textLength="9.4" lengthAdjust="spacingAndGlyphs">10</text>
<text x="912.4" y="311.6" font-size="10.3" fill="#2a2a2a" stroke="#fff" stroke-width="0.1" textLength="18.6" lengthAdjust="spacingAndGlyphs">DB3</text>
<text x="894.6" y="322.9" font-size="10.3" fill="#2a2a2a" stroke="#fff" stroke-width="0.1" textLength="9.4" lengthAdjust="spacingAndGlyphs">11</text>
<text x="912.4" y="322.9" font-size="10.3" fill="#2a2a2a" stroke="#fff" stroke-width="0.1" textLength="18.6" lengthAdjust="spacingAndGlyphs">DB4</text>
<text x="894.6" y="334.2" font-size="10.3" fill="#2a2a2a" stroke="#fff" stroke-width="0.1" textLength="9.4" lengthAdjust="spacingAndGlyphs">12</text>
<text x="912.4" y="334.2" font-size="10.3" fill="#2a2a2a" stroke="#fff" stroke-width="0.1" textLength="18.6" lengthAdjust="spacingAndGlyphs">DB5</text>
<text x="894.6" y="345.5" font-size="10.3" fill="#2a2a2a" stroke="#fff" stroke-width="0.1" textLength="9.4" lengthAdjust="spacingAndGlyphs">13</text>
<text x="912.4" y="345.5" font-size="10.3" fill="#2a2a2a" stroke="#fff" stroke-width="0.1" textLength="18.6" lengthAdjust="spacingAndGlyphs">DB6</text>
<text x="894.6" y="356.8" font-size="10.3" fill="#2a2a2a" stroke="#fff" stroke-width="0.1" textLength="9.4" lengthAdjust="spacingAndGlyphs">14</text>
<text x="912.4" y="356.8" font-size="10.3" fill="#2a2a2a" stroke="#fff" stroke-width="0.1" textLength="18.6" lengthAdjust="spacingAndGlyphs">DB7</text>
<text x="894.6" y="368.1" font-size="10.3" fill="#2a2a2a" stroke="#fff" stroke-width="0.1" textLength="9.4" lengthAdjust="spacingAndGlyphs">15</text>
<text x="912.4" y="368.1" font-size="10.3" fill="#2a2a2a" stroke="#fff" stroke-width="0.1" textLength="19.2" lengthAdjust="spacingAndGlyphs">BLA</text>
<text x="894.6" y="379.4" font-size="10.3" fill="#2a2a2a" stroke="#fff" stroke-width="0.1" textLength="9.4" lengthAdjust="spacingAndGlyphs">16</text>
<text x="912.4" y="379.4" font-size="10.3" fill="#2a2a2a" stroke="#fff" stroke-width="0.1" textLength="18.6" lengthAdjust="spacingAndGlyphs">BLK</text>
<rect x="792.8" y="510.2" width="11.08" height="13" fill="none" stroke="#5a5a5a" stroke-width="0.9"/>
<rect x="792.8" y="524.2" width="11.08" height="13" fill="none" stroke="#5a5a5a" stroke-width="0.9"/>
<rect x="792.8" y="538.2" width="11.08" height="13" fill="none" stroke="#5a5a5a" stroke-width="0.9"/>
<rect x="792.8" y="552.2" width="11.08" height="13" fill="none" stroke="#5a5a5a" stroke-width="0.9"/>
<rect x="792.8" y="566.2" width="11.08" height="13" fill="none" stroke="#5a5a5a" stroke-width="0.9"/>
<rect x="792.8" y="580.2" width="11.08" height="13" fill="none" stroke="#5a5a5a" stroke-width="0.9"/>
<rect x="792.8" y="594.2" width="11.08" height="13" fill="none" stroke="#5a5a5a" stroke-width="0.9"/>
<rect x="792.8" y="608.2" width="11.08" height="13" fill="none" stroke="#5a5a5a" stroke-width="0.9"/>
<rect x="792.8" y="630.2" width="11.08" height="12.8" fill="none" stroke="#5a5a5a" stroke-width="0.9"/>
<rect x="804.88" y="510.2" width="11.08" height="13" fill="none" stroke="#5a5a5a" stroke-width="0.9"/>
<rect x="804.88" y="524.2" width="11.08" height="13" fill="none" stroke="#5a5a5a" stroke-width="0.9"/>
<rect x="804.88" y="538.2" width="11.08" height="13" fill="none" stroke="#5a5a5a" stroke-width="0.9"/>
<rect x="804.88" y="552.2" width="11.08" height="13" fill="none" stroke="#5a5a5a" stroke-width="0.9"/>
<rect x="804.88" y="566.2" width="11.08" height="13" fill="none" stroke="#5a5a5a" stroke-width="0.9"/>
<rect x="804.88" y="580.2" width="11.08" height="13" fill="none" stroke="#5a5a5a" stroke-width="0.9"/>
<rect x="804.88" y="594.2" width="11.08" height="13" fill="none" stroke="#5a5a5a" stroke-width="0.9"/>
<rect x="804.88" y="608.2" width="11.08" height="13" fill="none" stroke="#5a5a5a" stroke-width="0.9"/>
<rect x="804.88" y="630.2" width="11.08" height="12.8" fill="none" stroke="#5a5a5a" stroke-width="0.9"/>
<rect x="816.96" y="510.2" width="11.08" height="13" fill="none" stroke="#5a5a5a" stroke-width="0.9"/>
<rect x="816.96" y="524.2" width="11.08" height="13" fill="none" stroke="#5a5a5a" stroke-width="0.9"/>
<rect x="816.96" y="538.2" width="11.08" height="13" fill="none" stroke="#5a5a5a" stroke-width="0.9"/>
<rect x="816.96" y="552.2" width="11.08" height="13" fill="none" stroke="#5a5a5a" stroke-width="0.9"/>
<rect x="816.96" y="566.2" width="11.08" height="13" fill="none" stroke="#5a5a5a" stroke-width="0.9"/>
<rect x="816.96" y="580.2" width="11.08" height="13" fill="none" stroke="#5a5a5a" stroke-width="0.9"/>
<rect x="816.96" y="594.2" width="11.08" height="13" fill="none" stroke="#5a5a5a" stroke-width="0.9"/>
<rect x="816.96" y="608.2" width="11.08" height="13" fill="none" stroke="#5a5a5a" stroke-width="0.9"/>
<rect x="816.96" y="630.2" width="11.08" height="12.8" fill="none" stroke="#5a5a5a" stroke-width="0.9"/>
<rect x="829.04" y="510.2" width="11.08" height="13" fill="none" stroke="#5a5a5a" stroke-width="0.9"/>
<rect x="829.04" y="524.2" width="11.08" height="13" fill="none" stroke="#5a5a5a" stroke-width="0.9"/>
<rect x="829.04" y="538.2" width="11.08" height="13" fill="none" stroke="#5a5a5a" stroke-width="0.9"/>
<rect x="829.04" y="552.2" width="11.08" height="13" fill="none" stroke="#5a5a5a" stroke-width="0.9"/>
<rect x="829.04" y="566.2" width="11.08" height="13" fill="none" stroke="#5a5a5a" stroke-width="0.9"/>
<rect x="829.04" y="580.2" width="11.08" height="13" fill="none" stroke="#5a5a5a" stroke-width="0.9"/>
<rect x="829.04" y="594.2" width="11.08" height="13" fill="none" stroke="#5a5a5a" stroke-width="0.9"/>
<rect x="829.04" y="608.2" width="11.08" height="13" fill="none" stroke="#5a5a5a" stroke-width="0.9"/>
<rect x="829.04" y="630.2" width="11.08" height="12.8" fill="none" stroke="#5a5a5a" stroke-width="0.9"/>
<rect x="841.12" y="510.2" width="11.08" height="13" fill="none" stroke="#5a5a5a" stroke-width="0.9"/>
<rect x="841.12" y="524.2" width="11.08" height="13" fill="none" stroke="#5a5a5a" stroke-width="0.9"/>
<rect x="841.12" y="538.2" width="11.08" height="13" fill="none" stroke="#5a5a5a" stroke-width="0.9"/>
<rect x="841.12" y="552.2" width="11.08" height="13" fill="none" stroke="#5a5a5a" stroke-width="0.9"/>
<rect x="841.12" y="566.2" width="11.08" height="13" fill="none" stroke="#5a5a5a" stroke-width="0.9"/>
<rect x="841.12" y="580.2" width="11.08" height="13" fill="none" stroke="#5a5a5a" stroke-width="0.9"/>
<rect x="841.12" y="594.2" width="11.08" height="13" fill="none" stroke="#5a5a5a" stroke-width="0.9"/>
<rect x="841.12" y="608.2" width="11.08" height="13" fill="none" stroke="#5a5a5a" stroke-width="0.9"/>
<rect x="841.12" y="630.2" width="11.08" height="12.8" fill="none" stroke="#5a5a5a" stroke-width="0.9"/>
<rect x="864.8" y="510.2" width="10.5" height="13" fill="none" stroke="#5a5a5a" stroke-width="0.9"/>
<rect x="864.8" y="524.2" width="10.5" height="13" fill="none" stroke="#5a5a5a" stroke-width="0.9"/>
<rect x="864.8" y="538.2" width="10.5" height="13" fill="none" stroke="#5a5a5a" stroke-width="0.9"/>
<rect x="864.8" y="552.2" width="10.5" height="13" fill="none" stroke="#5a5a5a" stroke-width="0.9"/>
<rect x="864.8" y="566.2" width="10.5" height="13" fill="none" stroke="#5a5a5a" stroke-width="0.9"/>
<rect x="864.8" y="580.2" width="10.5" height="13" fill="none" stroke="#5a5a5a" stroke-width="0.9"/>
<rect x="864.8" y="594.2" width="10.5" height="13" fill="none" stroke="#5a5a5a" stroke-width="0.9"/>
<rect x="864.8" y="608.2" width="10.5" height="13" fill="none" stroke="#5a5a5a" stroke-width="0.9"/>
<line x1="792.3" y1="453" x2="792.3" y2="507" stroke="#474747" stroke-width="1"/>
<line x1="864.6" y1="453" x2="864.6" y2="507" stroke="#474747" stroke-width="1"/>
<line x1="852.5" y1="466" x2="852.5" y2="507" stroke="#474747" stroke-width="1"/>
<line x1="804.3" y1="480" x2="804.3" y2="507" stroke="#474747" stroke-width="1"/>
<line x1="792.3" y1="457.3" x2="864.6" y2="457.3" stroke="#474747" stroke-width="1"/>
<polygon points="793.3,457.3 799.3,455.9 799.3,458.7" fill="#111"/>
<polygon points="863.6,457.3 857.6,455.9 857.6,458.7" fill="#111"/>
<text x="817.3" y="456.9" font-size="10.1" fill="#2a2a2a" stroke="#fff" stroke-width="0.1" textLength="21.1" lengthAdjust="spacingAndGlyphs">3.55</text>
<line x1="792.3" y1="469.6" x2="852.5" y2="469.6" stroke="#474747" stroke-width="1"/>
<polygon points="793.3,469.6 799.3,468.2 799.3,471" fill="#111"/>
<polygon points="851.5,469.6 845.5,468.2 845.5,471" fill="#111"/>
<text x="812" y="469.2" font-size="10.1" fill="#2a2a2a" stroke="#fff" stroke-width="0.1" textLength="22" lengthAdjust="spacingAndGlyphs">2.95</text>
<line x1="779.2" y1="482.1" x2="837.6" y2="482.1" stroke="#474747" stroke-width="1"/>
<polygon points="791.3,482.1 785.3,480.7 785.3,483.5" fill="#111"/>
<polygon points="805.3,482.1 811.3,480.7 811.3,483.5" fill="#111"/>
<text x="822.4" y="481.7" font-size="10.1" fill="#2a2a2a" stroke="#fff" stroke-width="0.1" textLength="14.4" lengthAdjust="spacingAndGlyphs">0.6</text>
<line x1="779.2" y1="494.1" x2="839.2" y2="494.1" stroke="#474747" stroke-width="1"/>
<polygon points="791.3,494.1 785.3,492.7 785.3,495.5" fill="#111"/>
<polygon points="805.3,494.1 811.3,492.7 811.3,495.5" fill="#111"/>
<text x="818" y="493.7" font-size="10.1" fill="#2a2a2a" stroke="#fff" stroke-width="0.1" textLength="20.4" lengthAdjust="spacingAndGlyphs">0.55</text>
<line x1="735.2" y1="509.7" x2="790.4" y2="509.7" stroke="#474747" stroke-width="1"/>
<line x1="759.2" y1="523.6" x2="790.4" y2="523.6" stroke="#474747" stroke-width="1"/>
<line x1="748" y1="621.7" x2="790.4" y2="621.7" stroke="#474747" stroke-width="1"/>
<line x1="735.2" y1="629.9" x2="790.4" y2="629.9" stroke="#474747" stroke-width="1"/>
<line x1="737.3" y1="509.7" x2="737.3" y2="629.9" stroke="#474747" stroke-width="1"/>
<polygon points="737.3,510.7 735.9,516.7 738.7,516.7" fill="#111"/>
<polygon points="737.3,628.9 735.9,622.9 738.7,622.9" fill="#111"/>
<text transform="translate(735.8,556.8) rotate(-90)" font-size="10.1" fill="#2a2a2a" stroke="#fff" stroke-width="0.1" textLength="21.6" lengthAdjust="spacingAndGlyphs">5.95</text>
<line x1="749.6" y1="509.7" x2="749.6" y2="621.7" stroke="#474747" stroke-width="1"/>
<polygon points="749.6,510.7 748.2,516.7 751,516.7" fill="#111"/>
<polygon points="749.6,620.7 748.2,614.7 751,614.7" fill="#111"/>
<text transform="translate(748.1,556.8) rotate(-90)" font-size="10.1" fill="#2a2a2a" stroke="#fff" stroke-width="0.1" textLength="21.6" lengthAdjust="spacingAndGlyphs">5.55</text>
<line x1="761.6" y1="496" x2="761.6" y2="557" stroke="#474747" stroke-width="1"/>
<polygon points="761.6,508.7 760.2,502.7 763,502.7" fill="#111"/>
<polygon points="761.6,524.6 760.2,530.6 763,530.6" fill="#111"/>
<text transform="translate(760.1,555.2) rotate(-90)" font-size="10.1" fill="#2a2a2a" stroke="#fff" stroke-width="0.1" textLength="14.4" lengthAdjust="spacingAndGlyphs">0.7</text>
<line x1="774" y1="496" x2="774" y2="558.4" stroke="#474747" stroke-width="1"/>
<polygon points="774,508.7 772.6,502.7 775.4,502.7" fill="#111"/>
<polygon points="774,524.6 772.6,530.6 775.4,530.6" fill="#111"/>
<text transform="translate(772.5,558.4) rotate(-90)" font-size="10.1" fill="#2a2a2a" stroke="#fff" stroke-width="0.1" textLength="21.6" lengthAdjust="spacingAndGlyphs">0.65</text>
<text x="770.9" y="659.3" font-size="10" fill="#2a2a2a" stroke="#fff" stroke-width="0.1" textLength="77.9" lengthAdjust="spacingAndGlyphs">Pixels Details</text>
<line x1="770.9" y1="661" x2="848.8" y2="661" stroke="#333" stroke-width="1.2"/>
<text x="783.2" y="670.6" font-size="10" fill="#2a2a2a" stroke="#fff" stroke-width="0.1" textLength="53.3" lengthAdjust="spacingAndGlyphs">Scale=6/1</text>
<line x1="783.2" y1="672.3" x2="836.5" y2="672.3" stroke="#333" stroke-width="1.2"/>
<line x1="158.5" y1="583.3" x2="202" y2="583.3" stroke="#474747" stroke-width="1"/>
<line x1="221.2" y1="583.3" x2="289.2" y2="583.3" stroke="#474747" stroke-width="1"/>
<line x1="305.5" y1="583.3" x2="315.6" y2="583.3" stroke="#474747" stroke-width="1"/>
<line x1="202" y1="583.3" x2="221.2" y2="583.3" stroke="#474747" stroke-width="1" stroke-dasharray="2 1.5"/>
<line x1="158.5" y1="654.1" x2="202" y2="654.1" stroke="#474747" stroke-width="1"/>
<line x1="221.2" y1="654.1" x2="315.6" y2="654.1" stroke="#474747" stroke-width="1"/>
<line x1="202" y1="654.1" x2="221.2" y2="654.1" stroke="#474747" stroke-width="1" stroke-dasharray="2 1.5"/>
<line x1="200.4" y1="603.6" x2="222.8" y2="603.6" stroke="#474747" stroke-width="1" stroke-dasharray="2 1.5"/>
<line x1="200.4" y1="631.8" x2="222.8" y2="631.8" stroke="#474747" stroke-width="1" stroke-dasharray="2 1.5"/>
<rect x="289.2" y="579.9" width="16.3" height="6.4" fill="none" stroke="#444" stroke-width="1"/>
<line x1="158.5" y1="583.3" x2="158.5" y2="597.3" stroke="#474747" stroke-width="1"/>
<line x1="158.5" y1="611.9" x2="158.5" y2="625.6" stroke="#474747" stroke-width="1"/>
<line x1="158.5" y1="640.3" x2="158.5" y2="654.1" stroke="#474747" stroke-width="1"/>
<polygon points="151.3,597.3 165.7,597.3 158.5,607.9" fill="none" stroke="#333" stroke-width="1"/>
<rect x="151.3" y="608.1" width="14.4" height="3.8" fill="none" stroke="#333" stroke-width="1"/>
<line x1="146.3" y1="598.9" x2="151" y2="603.8" stroke="#555" stroke-width="0.9"/>
<polygon points="146.1,598.7 146.7,600.9 148.3,599.5" fill="#333" stroke="#333" stroke-width="0.5"/>
<line x1="146.3" y1="602.9" x2="151" y2="607.8" stroke="#555" stroke-width="0.9"/>
<polygon points="146.1,602.7 146.7,604.9 148.3,603.5" fill="#333" stroke="#333" stroke-width="0.5"/>
<polygon points="151.3,625.6 165.7,625.6 158.5,636.2" fill="none" stroke="#333" stroke-width="1"/>
<rect x="151.3" y="636.4" width="14.4" height="3.9" fill="none" stroke="#333" stroke-width="1"/>
<line x1="146.3" y1="627.2" x2="151" y2="632.1" stroke="#555" stroke-width="0.9"/>
<polygon points="146.1,627 146.7,629.2 148.3,627.8" fill="#333" stroke="#333" stroke-width="0.5"/>
<line x1="146.3" y1="631.2" x2="151" y2="636.1" stroke="#555" stroke-width="0.9"/>
<polygon points="146.1,631 146.7,633.2 148.3,631.8" fill="#333" stroke="#333" stroke-width="0.5"/>
<line x1="179.6" y1="583.3" x2="179.6" y2="597.3" stroke="#474747" stroke-width="1"/>
<line x1="179.6" y1="611.9" x2="179.6" y2="625.6" stroke="#474747" stroke-width="1"/>
<line x1="179.6" y1="640.3" x2="179.6" y2="654.1" stroke="#474747" stroke-width="1"/>
<polygon points="172.4,597.3 186.8,597.3 179.6,607.9" fill="none" stroke="#333" stroke-width="1"/>
<rect x="172.4" y="608.1" width="14.4" height="3.8" fill="none" stroke="#333" stroke-width="1"/>
<line x1="167.4" y1="598.9" x2="172.1" y2="603.8" stroke="#555" stroke-width="0.9"/>
<polygon points="167.2,598.7 167.8,600.9 169.4,599.5" fill="#333" stroke="#333" stroke-width="0.5"/>
<line x1="167.4" y1="602.9" x2="172.1" y2="607.8" stroke="#555" stroke-width="0.9"/>
<polygon points="167.2,602.7 167.8,604.9 169.4,603.5" fill="#333" stroke="#333" stroke-width="0.5"/>
<polygon points="172.4,625.6 186.8,625.6 179.6,636.2" fill="none" stroke="#333" stroke-width="1"/>
<rect x="172.4" y="636.4" width="14.4" height="3.9" fill="none" stroke="#333" stroke-width="1"/>
<line x1="167.4" y1="627.2" x2="172.1" y2="632.1" stroke="#555" stroke-width="0.9"/>
<polygon points="167.2,627 167.8,629.2 169.4,627.8" fill="#333" stroke="#333" stroke-width="0.5"/>
<line x1="167.4" y1="631.2" x2="172.1" y2="636.1" stroke="#555" stroke-width="0.9"/>
<polygon points="167.2,631 167.8,633.2 169.4,631.8" fill="#333" stroke="#333" stroke-width="0.5"/>
<line x1="245.7" y1="583.3" x2="245.7" y2="597.3" stroke="#474747" stroke-width="1"/>
<line x1="245.7" y1="611.9" x2="245.7" y2="625.6" stroke="#474747" stroke-width="1"/>
<line x1="245.7" y1="640.3" x2="245.7" y2="654.1" stroke="#474747" stroke-width="1"/>
<polygon points="238.5,597.3 252.9,597.3 245.7,607.9" fill="none" stroke="#333" stroke-width="1"/>
<rect x="238.5" y="608.1" width="14.4" height="3.8" fill="none" stroke="#333" stroke-width="1"/>
<line x1="233.5" y1="598.9" x2="238.2" y2="603.8" stroke="#555" stroke-width="0.9"/>
<polygon points="233.3,598.7 233.9,600.9 235.5,599.5" fill="#333" stroke="#333" stroke-width="0.5"/>
<line x1="233.5" y1="602.9" x2="238.2" y2="607.8" stroke="#555" stroke-width="0.9"/>
<polygon points="233.3,602.7 233.9,604.9 235.5,603.5" fill="#333" stroke="#333" stroke-width="0.5"/>
<polygon points="238.5,625.6 252.9,625.6 245.7,636.2" fill="none" stroke="#333" stroke-width="1"/>
<rect x="238.5" y="636.4" width="14.4" height="3.9" fill="none" stroke="#333" stroke-width="1"/>
<line x1="233.5" y1="627.2" x2="238.2" y2="632.1" stroke="#555" stroke-width="0.9"/>
<polygon points="233.3,627 233.9,629.2 235.5,627.8" fill="#333" stroke="#333" stroke-width="0.5"/>
<line x1="233.5" y1="631.2" x2="238.2" y2="636.1" stroke="#555" stroke-width="0.9"/>
<polygon points="233.3,631 233.9,633.2 235.5,631.8" fill="#333" stroke="#333" stroke-width="0.5"/>
<line x1="267.3" y1="583.3" x2="267.3" y2="597.3" stroke="#474747" stroke-width="1"/>
<line x1="267.3" y1="611.9" x2="267.3" y2="625.6" stroke="#474747" stroke-width="1"/>
<line x1="267.3" y1="640.3" x2="267.3" y2="654.1" stroke="#474747" stroke-width="1"/>
<polygon points="260.1,597.3 274.5,597.3 267.3,607.9" fill="none" stroke="#333" stroke-width="1"/>
<rect x="260.1" y="608.1" width="14.4" height="3.8" fill="none" stroke="#333" stroke-width="1"/>
<line x1="255.1" y1="598.9" x2="259.8" y2="603.8" stroke="#555" stroke-width="0.9"/>
<polygon points="254.9,598.7 255.5,600.9 257.1,599.5" fill="#333" stroke="#333" stroke-width="0.5"/>
<line x1="255.1" y1="602.9" x2="259.8" y2="607.8" stroke="#555" stroke-width="0.9"/>
<polygon points="254.9,602.7 255.5,604.9 257.1,603.5" fill="#333" stroke="#333" stroke-width="0.5"/>
<polygon points="260.1,625.6 274.5,625.6 267.3,636.2" fill="none" stroke="#333" stroke-width="1"/>
<rect x="260.1" y="636.4" width="14.4" height="3.9" fill="none" stroke="#333" stroke-width="1"/>
<line x1="255.1" y1="627.2" x2="259.8" y2="632.1" stroke="#555" stroke-width="0.9"/>
<polygon points="254.9,627 255.5,629.2 257.1,627.8" fill="#333" stroke="#333" stroke-width="0.5"/>
<line x1="255.1" y1="631.2" x2="259.8" y2="636.1" stroke="#555" stroke-width="0.9"/>
<polygon points="254.9,631 255.5,633.2 257.1,631.8" fill="#333" stroke="#333" stroke-width="0.5"/>
<circle cx="179.6" cy="583.3" r="1.3" fill="#222" stroke="#222" stroke-width="0.5"/>
<circle cx="179.6" cy="654.1" r="1.3" fill="#222" stroke="#222" stroke-width="0.5"/>
<circle cx="245.7" cy="583.3" r="1.3" fill="#222" stroke="#222" stroke-width="0.5"/>
<circle cx="245.7" cy="654.1" r="1.3" fill="#222" stroke="#222" stroke-width="0.5"/>
<circle cx="267.3" cy="583.3" r="1.3" fill="#222" stroke="#222" stroke-width="0.5"/>
<circle cx="267.3" cy="654.1" r="1.3" fill="#222" stroke="#222" stroke-width="0.5"/>
<text x="318.8" y="586.3" font-size="10.5" fill="#2a2a2a" stroke="#fff" stroke-width="0.1" textLength="19.2" lengthAdjust="spacingAndGlyphs">BLA</text>
<text x="320.4" y="657.7" font-size="10.5" fill="#2a2a2a" stroke="#fff" stroke-width="0.1" textLength="19.2" lengthAdjust="spacingAndGlyphs">BLK</text>
<text x="194" y="672.4" font-size="10" fill="#2a2a2a" stroke="#fff" stroke-width="0.1" textLength="96" lengthAdjust="spacingAndGlyphs">Backlight Circuit</text>
<line x1="194" y1="674" x2="290" y2="674" stroke="#333" stroke-width="1.2"/>
<text x="210" y="683.9" font-size="10" fill="#2a2a2a" stroke="#fff" stroke-width="0.1" textLength="62.9" lengthAdjust="spacingAndGlyphs">Scale=free</text>
<line x1="210" y1="685.6" x2="272.9" y2="685.6" stroke="#333" stroke-width="1.2"/>
<line x1="456" y1="566" x2="599.4" y2="566" stroke="#474747" stroke-width="1"/>
<line x1="456" y1="598" x2="599.4" y2="598" stroke="#474747" stroke-width="1"/>
<line x1="456" y1="603" x2="599.4" y2="603" stroke="#474747" stroke-width="1"/>
<line x1="456" y1="635" x2="599.4" y2="635" stroke="#474747" stroke-width="1"/>
<line x1="466.6" y1="561" x2="466.6" y2="645" stroke="#474747" stroke-width="1"/>
<line x1="594" y1="561" x2="594" y2="645" stroke="#474747" stroke-width="1"/>
<text x="438" y="571.6" font-size="10.1" fill="#2a2a2a" stroke="#fff" stroke-width="0.1" textLength="12" lengthAdjust="spacingAndGlyphs">C1</text>
<text x="438" y="596.4" font-size="10.1" fill="#2a2a2a" stroke="#fff" stroke-width="0.1" textLength="14" lengthAdjust="spacingAndGlyphs">C8</text>
<text x="439" y="609.6" font-size="10.1" fill="#2a2a2a" stroke="#fff" stroke-width="0.1" textLength="13" lengthAdjust="spacingAndGlyphs">C9</text>
<text x="434" y="641" font-size="10.1" fill="#2a2a2a" stroke="#fff" stroke-width="0.1" textLength="20" lengthAdjust="spacingAndGlyphs">C16</text>
<circle cx="445" cy="576.5" r="0.55" fill="#555" stroke="#555" stroke-width="0.4"/>
<circle cx="445" cy="579.5" r="0.55" fill="#555" stroke="#555" stroke-width="0.4"/>
<circle cx="445" cy="622" r="0.55" fill="#555" stroke="#555" stroke-width="0.4"/>
<circle cx="445" cy="625" r="0.55" fill="#555" stroke="#555" stroke-width="0.4"/>
<text transform="translate(471.5,659.5) rotate(-90)" font-size="10.1" fill="#2a2a2a" stroke="#fff" stroke-width="0.1" textLength="11.8" lengthAdjust="spacingAndGlyphs">S1</text>
<text transform="translate(599,669.6) rotate(-90)" font-size="10.1" fill="#2a2a2a" stroke="#fff" stroke-width="0.1" textLength="20.8" lengthAdjust="spacingAndGlyphs">S80</text>
<line x1="504.6" y1="651.2" x2="541.4" y2="651.2" stroke="#777" stroke-width="0.9" stroke-dasharray="2 1.2 2 5"/>
<text x="467.8" y="684.5" font-size="10" fill="#2a2a2a" stroke="#fff" stroke-width="0.1" textLength="115.2" lengthAdjust="spacingAndGlyphs">Panel Wiring Details</text>
<line x1="467.8" y1="686.2" x2="583" y2="686.2" stroke="#333" stroke-width="1.2"/>
<text x="494.2" y="696" font-size="10" fill="#2a2a2a" stroke="#fff" stroke-width="0.1" textLength="62.4" lengthAdjust="spacingAndGlyphs">Scale=free</text>
<line x1="494.2" y1="697.6" x2="556.6" y2="697.6" stroke="#333" stroke-width="1.2"/>
<text x="35" y="740.6" font-size="10" fill="#2a2a2a" stroke="#fff" stroke-width="0.1" textLength="28" lengthAdjust="spacingAndGlyphs">Note:</text>
<text x="35" y="751.8" font-size="10" fill="#2a2a2a" stroke="#fff" stroke-width="0.1" textLength="118.5" lengthAdjust="spacingAndGlyphs">×1. LCD Display Type</text>
<text x="160.6" y="751.8" font-size="10" fill="#2a2a2a" stroke="#fff" stroke-width="0.1">:</text>
<text x="171" y="751.8" font-size="10" fill="#2a2a2a" stroke="#fff" stroke-width="0.1" textLength="183" lengthAdjust="spacingAndGlyphs">STN-YG, Positive, Transflective</text>
<text x="35" y="763" font-size="10" fill="#2a2a2a" stroke="#fff" stroke-width="0.1" textLength="120" lengthAdjust="spacingAndGlyphs">×2. Viewing Direction</text>
<text x="161.6" y="763" font-size="10" fill="#2a2a2a" stroke="#fff" stroke-width="0.1">:</text>
<text x="171.5" y="763" font-size="10" fill="#2a2a2a" stroke="#fff" stroke-width="0.1" textLength="12.5" lengthAdjust="spacingAndGlyphs">6H</text>
<text x="35" y="774.2" font-size="10" fill="#2a2a2a" stroke="#fff" stroke-width="0.1" textLength="48" lengthAdjust="spacingAndGlyphs">×3. Duty</text>
<text x="90.6" y="774.2" font-size="10" fill="#2a2a2a" stroke="#fff" stroke-width="0.1">:</text>
<text x="99.4" y="774.2" font-size="10" fill="#2a2a2a" stroke="#fff" stroke-width="0.1" textLength="54.1" lengthAdjust="spacingAndGlyphs">1/16; Bias</text>
<text x="160.6" y="774.2" font-size="10" fill="#2a2a2a" stroke="#fff" stroke-width="0.1">:</text>
<text x="170.5" y="774.2" font-size="10" fill="#2a2a2a" stroke="#fff" stroke-width="0.1" textLength="17.5" lengthAdjust="spacingAndGlyphs">1/5</text>
<text x="35" y="785.4" font-size="10" fill="#2a2a2a" stroke="#fff" stroke-width="0.1" textLength="129.5" lengthAdjust="spacingAndGlyphs">×4. Operating Voltage</text>
<text x="172.1" y="785.4" font-size="10" fill="#2a2a2a" stroke="#fff" stroke-width="0.1">:</text>
<text x="181.5" y="785.4" font-size="10" fill="#2a2a2a" stroke="#fff" stroke-width="0.1" textLength="21.5" lengthAdjust="spacingAndGlyphs">5.0V</text>
<text x="35" y="796.6" font-size="10" fill="#2a2a2a" stroke="#fff" stroke-width="0.1" textLength="110.5" lengthAdjust="spacingAndGlyphs">×5. Backlight Color</text>
<text x="152.6" y="796.6" font-size="10" fill="#2a2a2a" stroke="#fff" stroke-width="0.1">:</text>
<text x="163" y="796.6" font-size="10" fill="#2a2a2a" stroke="#fff" stroke-width="0.1" textLength="12" lengthAdjust="spacingAndGlyphs">YG</text>
<text x="35" y="807.8" font-size="10" fill="#2a2a2a" stroke="#fff" stroke-width="0.1" textLength="158.5" lengthAdjust="spacingAndGlyphs">×6. Operating Temperature</text>
<text x="200.6" y="807.8" font-size="10" fill="#2a2a2a" stroke="#fff" stroke-width="0.1">:</text>
<text x="210" y="807.8" font-size="10" fill="#2a2a2a" stroke="#fff" stroke-width="0.1" textLength="46" lengthAdjust="spacingAndGlyphs">0°C~50°C</text>
<text x="35" y="819" font-size="10" fill="#2a2a2a" stroke="#fff" stroke-width="0.1" textLength="149.5" lengthAdjust="spacingAndGlyphs">×7. Storage Temperature</text>
<text x="191.6" y="819" font-size="10" fill="#2a2a2a" stroke="#fff" stroke-width="0.1">:</text>
<text x="201" y="819" font-size="10" fill="#2a2a2a" stroke="#fff" stroke-width="0.1" textLength="57" lengthAdjust="spacingAndGlyphs">-10°C~60°C</text>
<rect x="722" y="695.2" width="252" height="133.8" fill="none" stroke="#555" stroke-width="1.2"/>
<line x1="722" y1="735.7" x2="974" y2="735.7" stroke="#555" stroke-width="1.2"/>
<line x1="722" y1="758.8" x2="974" y2="758.8" stroke="#555" stroke-width="1.2"/>
<line x1="722" y1="782.5" x2="974" y2="782.5" stroke="#555" stroke-width="1.2"/>
<line x1="722" y1="805.7" x2="974" y2="805.7" stroke="#555" stroke-width="1.2"/>
<line x1="890.5" y1="758.8" x2="890.5" y2="782.5" stroke="#555" stroke-width="1.1"/>
<line x1="785" y1="782.5" x2="785" y2="805.7" stroke="#555" stroke-width="1.1"/>
<line x1="848" y1="782.5" x2="848" y2="805.7" stroke="#555" stroke-width="1.1"/>
<line x1="911.5" y1="782.5" x2="911.5" y2="805.7" stroke="#555" stroke-width="1.1"/>
<line x1="806" y1="805.7" x2="806" y2="829" stroke="#555" stroke-width="1.1"/>
<line x1="890.5" y1="805.7" x2="890.5" y2="829" stroke="#555" stroke-width="1.1"/>
<text x="755.5" y="725.8" font-size="27" font-weight="bold" font-style="italic" fill="#000" stroke="#000" stroke-width="0.5" textLength="190.2" lengthAdjust="spacingAndGlyphs">HOT DISPLAY</text>
<text x="737.5" y="754.3" font-size="12" fill="#000" textLength="231.5" lengthAdjust="spacingAndGlyphs">HTM1602A-01Y-A5P-12 Outline Dwg</text>
<text x="724" y="742.3" font-size="7.5" fill="#2a2a2a" stroke="#fff" stroke-width="0.05" textLength="38" lengthAdjust="spacingAndGlyphs">Dwg Title</text>
<text x="724" y="766" font-size="7.5" fill="#2a2a2a" stroke="#fff" stroke-width="0.05" textLength="31" lengthAdjust="spacingAndGlyphs">Dwg No.</text>
<text x="892.2" y="766" font-size="7.5" fill="#2a2a2a" stroke="#fff" stroke-width="0.05" textLength="18.6" lengthAdjust="spacingAndGlyphs">Date</text>
<text x="724" y="789.2" font-size="7.5" fill="#2a2a2a" stroke="#fff" stroke-width="0.05" textLength="21.3" lengthAdjust="spacingAndGlyphs">Scale</text>
<text x="787.3" y="789.2" font-size="7.5" fill="#2a2a2a" stroke="#fff" stroke-width="0.05" textLength="16.2" lengthAdjust="spacingAndGlyphs">Unit</text>
<text x="851.7" y="789.2" font-size="7.5" fill="#2a2a2a" stroke="#fff" stroke-width="0.05" textLength="12" lengthAdjust="spacingAndGlyphs">Tol.</text>
<text x="724" y="812.8" font-size="7.5" fill="#2a2a2a" stroke="#fff" stroke-width="0.05" textLength="24.2" lengthAdjust="spacingAndGlyphs">Drawn</text>
<text x="807.7" y="812.8" font-size="7.5" fill="#2a2a2a" stroke="#fff" stroke-width="0.05" textLength="35" lengthAdjust="spacingAndGlyphs">Checked</text>
<text x="892.2" y="812.8" font-size="7.5" fill="#2a2a2a" stroke="#fff" stroke-width="0.05" textLength="38.6" lengthAdjust="spacingAndGlyphs">Approved</text>
<text x="768.7" y="776.8" font-size="10" fill="#2a2a2a" stroke="#fff" stroke-width="0.1" textLength="36.3" lengthAdjust="spacingAndGlyphs">060380</text>
<text x="902.2" y="776.8" font-size="10" fill="#2a2a2a" stroke="#fff" stroke-width="0.1" textLength="61.5" lengthAdjust="spacingAndGlyphs">2009-02-04</text>
<text x="751" y="800.8" font-size="10" fill="#2a2a2a" stroke="#fff" stroke-width="0.1" textLength="19.5" lengthAdjust="spacingAndGlyphs">3/2</text>
<text x="814" y="800.3" font-size="10" fill="#2a2a2a" stroke="#fff" stroke-width="0.1" textLength="12.7" lengthAdjust="spacingAndGlyphs">mm</text>
<text x="877.5" y="800.6" font-size="10" fill="#2a2a2a" stroke="#fff" stroke-width="0.1" textLength="20.2" lengthAdjust="spacingAndGlyphs">±0.5</text>
<text x="751.4" y="824.2" font-size="10" fill="#2a2a2a" stroke="#fff" stroke-width="0.1" textLength="25.1" lengthAdjust="spacingAndGlyphs">JACK</text>
<circle cx="929" cy="794.2" r="8.2" fill="none" stroke="#333" stroke-width="1"/>
<circle cx="929" cy="794.2" r="4.5" fill="none" stroke="#333" stroke-width="1"/>
<polygon points="942.7,790 965.2,786.2 965.2,802.7 942.7,800.5" fill="none" stroke="#333" stroke-width="1"/>
<line x1="916.2" y1="794.2" x2="970.5" y2="794.2" stroke="#555" stroke-width="0.8" stroke-dasharray="5 2 1.5 2"/>
</svg>
</body></html>
